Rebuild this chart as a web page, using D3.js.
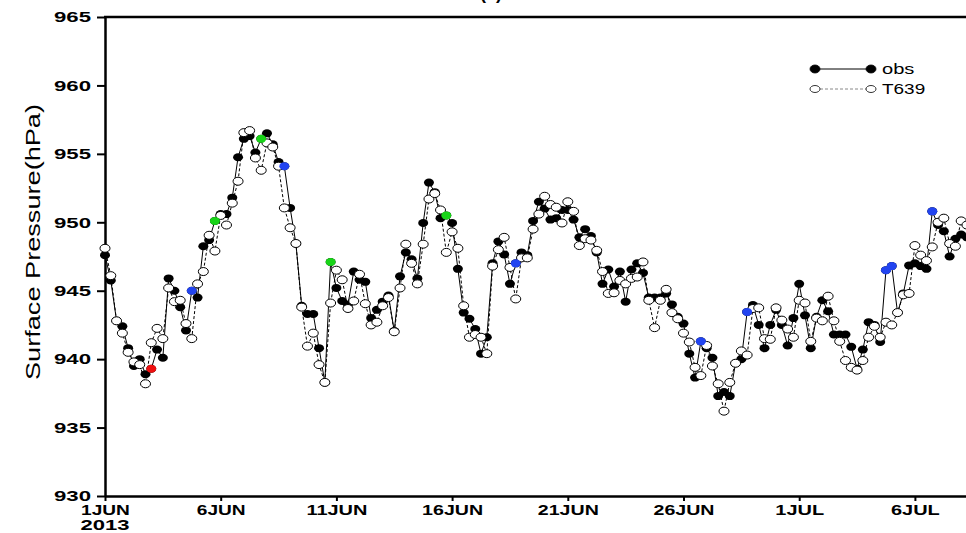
<!DOCTYPE html>
<html>
<head>
<meta charset="utf-8">
<script src="https://cdn.jsdelivr.net/npm/d3@7"></script>
<style>
  body { margin: 0; background: #fff; }
  svg { display: block; font-family: "Liberation Sans", Arial, sans-serif; }
  .axis-label { font-weight: bold; font-size: 15px; fill: #000; }
</style>
</head>
<body>
<svg></svg>
<script>
// surface pressure, obs vs T639, 6-hourly from 1 JUN 2013 00Z

const width = 966;
const height = 533;

const margin = { top: 17, right: 0, bottom: 37, left: 105 };

const svg = d3.select("svg").attr("width", width).attr("height", height);

// datos
const startTime = Date.UTC(2013, 5, 1, 0);
const stepHours = 6;

const obs = [
  947.6, 945.75, 942.8, 942.4, 940.8, 939.5, 940.0, 938.9, 939.3, 940.7,
  940.1, 945.9, 945.0, 943.8, 942.1, 945.0, 944.5, 948.25, 948.7, 950.1,
  950.6, 950.6, 951.8, 954.75, 956.1, 956.3, 955.1, 956.1, 956.5, 955.7,
  954.4, 954.1, 951.05, 948.45, 943.9, 943.3, 943.3, 940.8, 938.3, 947.1,
  945.2, 944.25, 944.0, 946.4, 945.8, 945.65, 943.0, 943.6, 944.2, 944.65,
  942.05, 946.05, 947.8, 947.3, 945.9, 949.95, 952.9, 952.2, 950.3, 950.5,
  949.95, 946.6, 943.4, 942.95, 942.2, 940.4, 941.6, 947.0, 948.6, 947.65,
  945.5, 947.0, 947.8, 947.6, 950.1, 951.5, 951.0, 950.2, 950.3, 950.9,
  950.9, 950.2, 948.9, 949.5, 949.0, 947.8, 945.5, 946.55, 945.3, 946.4,
  944.2, 946.55, 947.0, 946.3, 944.5, 944.5, 944.5, 944.8, 944.0, 943.1,
  942.6, 940.4, 938.65, 941.3, 940.8, 940.1, 937.3, 937.6, 937.3, 939.7,
  940.0, 943.45, 943.95, 942.5, 940.8, 942.5, 943.6, 942.5, 941.0, 943.0,
  945.5, 943.2, 940.8, 943.1, 944.3, 943.5, 941.8, 941.8, 941.8, 940.9,
  939.3, 940.7, 942.7, 942.5, 941.25, 946.5, 946.8, 943.4, 944.8, 946.85,
  947.0, 946.8, 946.6, 950.8, 949.8, 949.35, 947.5, 948.8, 949.1, 948.9
];

const t639 = [
  948.1, 946.1, 942.8, 941.9, 940.5, 939.8, 939.6, 938.2, 941.2, 942.25,
  941.5, 945.2, 944.2, 944.3, 942.6, 941.5, 945.5, 946.4, 949.05, 947.9,
  950.5, 949.8, 951.4, 953.0, 956.55, 956.7, 954.7, 953.8, 955.8, 955.5,
  954.1, 951.05, 949.6, 948.45, 943.8, 940.95, 941.9, 939.6, 938.3, 944.1,
  946.5, 945.8, 943.7, 944.25, 946.2, 944.05, 942.5, 942.7, 943.9, 944.5,
  942.0, 945.2, 948.4, 947.0, 945.5, 948.4, 951.7, 952.1, 950.9, 947.8,
  949.3, 948.1, 943.9, 941.6, 941.8, 941.6, 940.4, 946.8, 948.0, 948.9,
  946.7, 944.4, 947.4, 947.4, 949.5, 950.6, 951.9, 951.3, 951.1, 949.95,
  951.5, 950.8, 948.3, 948.8, 948.7, 947.95, 946.4, 944.8, 944.85, 945.75,
  945.5, 945.9, 946.0, 947.1, 944.3, 942.3, 944.3, 945.1, 943.4, 942.95,
  941.9, 941.25, 939.4, 938.8, 941.0, 939.5, 938.2, 936.2, 938.3, 939.7,
  940.6, 940.3, 943.7, 943.75, 941.5, 941.45, 943.75, 942.85, 942.2, 941.6,
  944.3, 944.1, 941.3, 943.0, 942.8, 944.6, 942.8, 941.3, 939.9, 939.4,
  939.2, 939.9, 941.6, 942.4, 941.6, 942.7, 942.5, 943.4, 944.7, 944.8,
  948.3, 947.6, 947.2, 948.2, 950.0, 950.3, 948.45, 948.25, 950.1, 949.8
];

// obs points drawn in colour (index into obs)
const highlightIdx = [8, 15, 19, 27, 31, 39, 59, 71, 103, 111, 135, 136, 143];
const highlightCol = ["red", "blue", "green", "green", "blue", "green", "green", "blue",
  "blue", "blue", "blue", "blue", "blue"];
const colores = { red: "#ee1010", blue: "#2244f0", green: "#18d418" };

// ticks
const yTicks = [930, 935, 940, 945, 950, 955, 960, 965];
const xTickDates = [
  Date.UTC(2013, 5, 1), Date.UTC(2013, 5, 6), Date.UTC(2013, 5, 11), Date.UTC(2013, 5, 16),
  Date.UTC(2013, 5, 21), Date.UTC(2013, 5, 26), Date.UTC(2013, 6, 1), Date.UTC(2013, 6, 6)
];
const xTickLabels = ["1JUN", "6JUN", "11JUN", "16JUN", "21JUN", "26JUN", "1JUL", "6JUL"];

const seriesNames = ["obs", "T639"];

const timeOf = (i) => new Date(startTime + i * stepHours * 3600 * 1000);

// escalas
const x = d3
  .scaleUtc()
  .domain([new Date(startTime), new Date(Date.UTC(2013, 6, 8, 5))])
  .range([margin.left, width - margin.right]);

const y = d3
  .scaleLinear()
  .domain([930, 965])
  .range([height - margin.bottom, margin.top]);

// marco superior
svg
  .append("line")
  .attr("x1", margin.left - 1)
  .attr("x2", width)
  .attr("y1", y(965))
  .attr("y2", y(965))
  .attr("stroke", "#000")
  .attr("stroke-width", 2.5);

// titulo (cortado arriba)
svg
  .append("text")
  .attr("x", 491)
  .attr("y", -1)
  .attr("text-anchor", "middle")
  .attr("font-size", 18)
  .attr("font-weight", "bold")
  .text("(a)");

// eje Y
const gy = svg
  .append("g")
  .attr("transform", `translate(${margin.left},0)`)
  .call(d3.axisLeft(y).tickValues(yTicks).tickSize(8).tickPadding(6).tickSizeOuter(0));
gy.select(".domain").attr("stroke-width", 2.5);
gy.selectAll(".tick line").attr("stroke-width", 2);
gy.selectAll("text")
  .attr("class", "axis-label")
  .attr("textLength", 37)
  .attr("lengthAdjust", "spacingAndGlyphs");

// eje X
const gx = svg
  .append("g")
  .attr("transform", `translate(0,${height - margin.bottom})`)
  .call(
    d3.axisBottom(x)
      .tickValues(xTickDates.map((d) => new Date(d)))
      .tickFormat((d, i) => xTickLabels[i])
      .tickSize(5)
      .tickPadding(3)
      .tickSizeOuter(0)
  );
gx.select(".domain").attr("stroke-width", 2.5);
gx.selectAll(".tick line").attr("stroke-width", 2);
gx.selectAll("text")
  .attr("class", "axis-label")
  .attr("textLength", (d, i) => xTickLabels[i].length * 12.2)
  .attr("lengthAdjust", "spacingAndGlyphs");

// año bajo la primera etiqueta
svg
  .append("text")
  .attr("class", "axis-label")
  .attr("x", x(new Date(xTickDates[0])))
  .attr("y", 530)
  .attr("text-anchor", "middle")
  .attr("textLength", 49)
  .attr("lengthAdjust", "spacingAndGlyphs")
  .text("2013");

// etiqueta y
svg
  .append("text")
  .attr("transform", "rotate(-90)")
  .attr("x", -242)
  .attr("y", 40)
  .attr("text-anchor", "middle")
  .attr("font-size", 21)
  .attr("textLength", 276)
  .attr("lengthAdjust", "spacingAndGlyphs")
  .text("Surface Pressure(hPa)");

// lineas
const line = d3
  .line()
  .x((d, i) => x(timeOf(i)))
  .y((d) => y(d));

svg
  .append("path")
  .datum(obs)
  .attr("fill", "none")
  .attr("stroke", "#000")
  .attr("stroke-width", 1)
  .attr("d", line);

svg
  .append("g")
  .selectAll("ellipse")
  .data(obs)
  .join("ellipse")
  .attr("cx", (d, i) => x(timeOf(i)))
  .attr("cy", (d) => y(d))
  .attr("rx", 5)
  .attr("ry", 4)
  .attr("fill", "#000");

svg
  .append("path")
  .datum(t639)
  .attr("fill", "none")
  .attr("stroke", "#000")
  .attr("stroke-width", 1)
  .attr("stroke-dasharray", "3,2")
  .attr("d", line);

svg
  .append("g")
  .selectAll("ellipse")
  .data(t639)
  .join("ellipse")
  .attr("cx", (d, i) => x(timeOf(i)))
  .attr("cy", (d) => y(d))
  .attr("rx", 5)
  .attr("ry", 4)
  .attr("fill", "#fff")
  .attr("stroke", "#000")
  .attr("stroke-width", 1);

// puntos de color
svg
  .append("g")
  .selectAll("ellipse")
  .data(highlightIdx)
  .join("ellipse")
  .attr("cx", (d) => x(timeOf(d)))
  .attr("cy", (d) => y(obs[d]))
  .attr("rx", 5)
  .attr("ry", 4)
  .attr("fill", (d, i) => colores[highlightCol[i]]);

// leyenda
const legend = svg.append("g");
const legRows = [
  { name: seriesNames[0], yy: 69, fill: "#000", dash: null, stroke: "#000", rx: 5, ry: 4 },
  { name: seriesNames[1], yy: 89, fill: "#fff", dash: "3,2", stroke: "#888", rx: 5, ry: 3.5 }
];
legRows.forEach((r) => {
  legend.append("line")
    .attr("x1", 815).attr("x2", 871)
    .attr("y1", r.yy).attr("y2", r.yy)
    .attr("stroke", r.stroke)
    .attr("stroke-width", 1)
    .attr("stroke-dasharray", r.dash);
  [815, 871].forEach((cx) => {
    legend.append("ellipse")
      .attr("cx", cx).attr("cy", r.yy)
      .attr("rx", r.rx).attr("ry", r.ry)
      .attr("fill", r.fill)
      .attr("stroke", "#000")
      .attr("stroke-width", 0.8);
  });
  legend.append("text")
    .attr("x", 882)
    .attr("y", r.yy + 5)
    .attr("font-size", 14)
    .attr("textLength", r.name.length * 10.8)
    .attr("lengthAdjust", "spacingAndGlyphs")
    .text(r.name);
});
</script>
</body>
</html>
